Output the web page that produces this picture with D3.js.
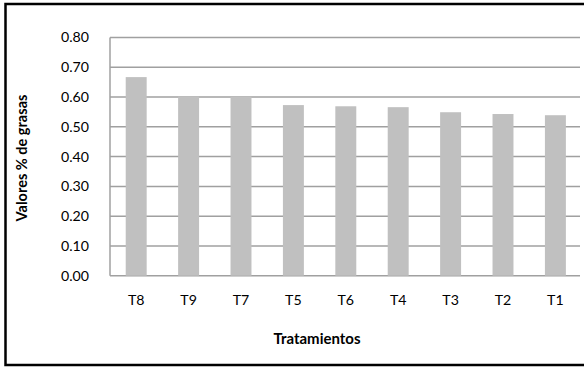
<!DOCTYPE html>
<html>
<head>
<meta charset="utf-8">
<script src="https://cdn.jsdelivr.net/npm/d3@7/dist/d3.min.js"></script>
<style>
  html, body { margin: 0; padding: 0; background: #fff; }
  svg { display: block; }
  text { font-family: Lato, "Open Sans", sans-serif; fill: #000; }
</style>
</head>
<body>
<svg id="chart" width="584" height="367"></svg>
<script>
// Treatments, ordered by fat content
const categories = ["T8", "T9", "T7", "T5", "T6", "T4", "T3", "T2", "T1"];
const values = [0.667, 0.602, 0.601, 0.573, 0.569, 0.566, 0.549, 0.543, 0.539];
const yTicks = [0, 0.1, 0.2, 0.3, 0.4, 0.5, 0.6, 0.7, 0.8];
const xTitle = "Tratamientos";
const yTitle = "Valores % de grasas";

const svg = d3.select("#chart");

const plot = { left: 110, right: 581.6, top: 37.5, bottom: 275.7, gridEnd: 580 };

const x = d3.scaleBand()
  .domain(categories)
  .range([plot.left, plot.right])
  .paddingInner(0.6)
  .paddingOuter(0.3);

const y = d3.scaleLinear()
  .domain([0, 0.8])
  .range([plot.bottom, plot.top]);

// scale a text's font so its drawn width equals the given span
function fitWidth(sel, width) {
  sel.each(function () {
    const base = parseFloat(this.getAttribute("font-size"));
    const w = this.getComputedTextLength();
    if (w > 0) this.setAttribute("font-size", (base * width / w).toFixed(2));
  });
}

// outer frame
svg.append("rect")
  .attr("x", 5.5).attr("y", 4)
  .attr("width", 590).attr("height", 361)
  .attr("fill", "none")
  .attr("stroke", "#000")
  .attr("stroke-width", 2.5);

// horizontal gridlines
svg.append("g")
  .selectAll("line")
  .data(yTicks)
  .join("line")
  .attr("x1", plot.left).attr("x2", plot.gridEnd)
  .attr("y1", d => y(d)).attr("y2", d => y(d))
  .attr("stroke", "#a0a0a0")
  .attr("stroke-width", 1.5);

// vertical axis line
svg.append("line")
  .attr("x1", plot.left).attr("x2", plot.left)
  .attr("y1", y(0.8)).attr("y2", y(0))
  .attr("stroke", "#a0a0a0")
  .attr("stroke-width", 1.5);

// bars
svg.append("g")
  .selectAll("rect")
  .data(categories)
  .join("rect")
  .attr("x", d => x(d))
  .attr("width", x.bandwidth())
  .attr("y", (d, i) => y(values[i]))
  .attr("height", (d, i) => y(0) - y(values[i]))
  .attr("fill", "#c0c0c0");

// y tick labels
const yLabels = svg.append("g")
  .selectAll("text")
  .data(yTicks)
  .join("text")
  .attr("x", 89)
  .attr("y", d => y(d))
  .attr("dy", "0.35em")
  .attr("text-anchor", "end")
  .attr("font-size", 14)
  .text(d => d3.format(".2f")(d));
const topLabel = yLabels.filter((d, i) => i === yTicks.length - 1);
fitWidth(topLabel, 28);
yLabels.attr("font-size", topLabel.attr("font-size"));

// x tick labels
svg.append("g")
  .selectAll("text")
  .data(categories)
  .join("text")
  .attr("x", d => x(d) + x.bandwidth() / 2)
  .attr("y", 300)
  .attr("dy", "0.35em")
  .attr("text-anchor", "middle")
  .attr("font-size", topLabel.attr("font-size"))
  .text(d => d);

// axis titles
const xt = svg.append("text")
  .attr("x", 317)
  .attr("y", 339)
  .attr("dy", "0.35em")
  .attr("text-anchor", "middle")
  .attr("font-size", 13)
  .attr("font-weight", "bold")
  .text(xTitle);
fitWidth(xt, 87);

const yt = svg.append("text")
  .attr("transform", "translate(22,158) rotate(-90)")
  .attr("dy", "0.35em")
  .attr("text-anchor", "middle")
  .attr("font-size", 13)
  .attr("font-weight", "bold")
  .text(yTitle);
fitWidth(yt, 127);
</script>
</body>
</html>
